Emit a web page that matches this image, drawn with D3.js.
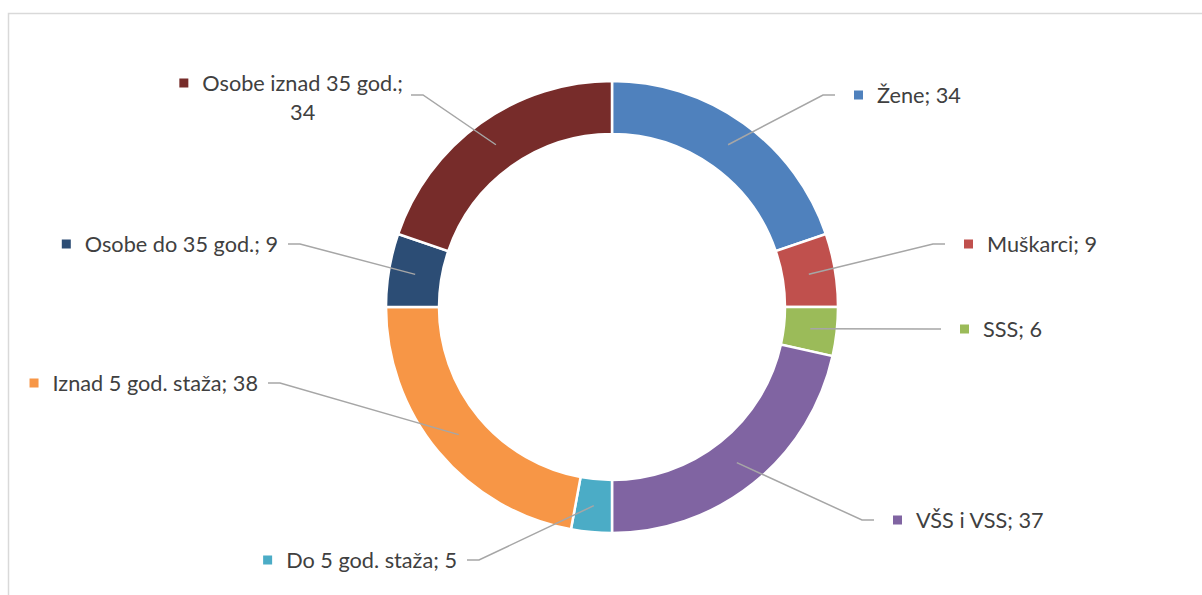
<!doctype html>
<html lang="en">
  <head>
    <meta charset="utf-8">
    <title>Donut chart</title>
    <style>
      body{margin:0;background:#fff;}
      svg{display:block;}
    </style>
  </head>
  <body>
    <div class="holder"></div>
    <script src="https://cdn.jsdelivr.net/npm/d3@7"></script>
    <script>

      // chart data
      var categories = ["Žene", "Muškarci", "SSS", "VŠS i VSS", "Do 5 god. staža",
                        "Iznad 5 god. staža", "Osobe do 35 god.", "Osobe iznad 35 god."];
      var values = [34, 9, 6, 37, 5, 38, 9, 34];
      var colors = ["#4F81BD", "#C0504D", "#9BBB59", "#8064A2", "#4BACC6",
                    "#F79646", "#2C4D75", "#772C2A"];

      // where each leader line bends (layout only), side of the label, wrapped or not
      var labelBends = [[823, 95], [933, 244], [929, 329], [862, 520],
                        [479, 560], [280, 383], [300, 244], [423, 95]];
      var labelSide = ["right", "right", "right", "right", "left", "left", "left", "left"];
      var labelWrap = [false, false, false, false, false, false, false, true];

      var width = 1202, height = 595,
          cx = 612, cy = 307,
          outerR = 226, innerR = 173,
          font = "Lato, 'Open Sans', sans-serif",
          fontSize = 21.7,
          textColor = "#404040",
          lineColor = "#A6A6A6";

      var data = categories.map(function(c, i){
        return {title: c, value: values[i], color: colors[i],
                bend: labelBends[i], side: labelSide[i], wrap: labelWrap[i]};
      });

      var svg = d3.select(".holder")
          .append("svg")
          .attr("width", width)
          .attr("height", height);

      // chart area border
      svg.append("rect")
          .attr("x", 8.5).attr("y", 13.5)
          .attr("width", width).attr("height", height)
          .style("fill", "none")
          .style("stroke", "#D9D9D9")
          .style("stroke-width", 1.5);

      var pie = d3.pie()
          .sort(null)
          .value(function(d){ return d.value; });

      var arc = d3.arc()
          .innerRadius(innerR)
          .outerRadius(outerR);

      var arcs = pie(data);

      var g = svg.append("g")
          .attr("transform", "translate(" + cx + "," + cy + ")");

      g.selectAll("path.slice")
          .data(arcs)
          .enter()
          .append("path")
          .attr("class", "slice")
          .attr("d", arc)
          .style("fill", function(d){ return d.data.color; })
          .style("stroke", "#fff")
          .style("stroke-width", 2.5);

      // leader lines: centroid -> bend -> short horizontal tail
      svg.selectAll("polyline.leader")
          .data(arcs)
          .enter()
          .append("polyline")
          .attr("class", "leader")
          .attr("points", function(d){
            var c = arc.centroid(d),
                b = d.data.bend,
                tail = d.data.side == "right" ? b[0] + 12 : b[0] - 12;
            return [[c[0] + cx, c[1] + cy], b, [tail, b[1]]].join(" ");
          })
          .style("fill", "none")
          .style("stroke", lineColor)
          .style("stroke-width", 1.5);

      // labels
      arcs.forEach(function(d){
        var b = d.data.bend, lg = svg.append("g");

        if (d.data.wrap) {
          var right = b[0] - 12 - 8;
          var t1 = lg.append("text")
              .attr("y", b[1] - 12)
              .attr("dy", "0.36em")
              .attr("text-anchor", "middle")
              .text(d.data.title + ";");
          var t2 = lg.append("text")
              .attr("y", b[1] + 17)
              .attr("dy", "0.36em")
              .attr("text-anchor", "middle")
              .text(d.data.value);
          lg.selectAll("text")
              .style("font-family", font)
              .style("font-size", fontSize + "px")
              .style("fill", textColor);
          var w1 = t1.node().getComputedTextLength();
          lg.selectAll("text").attr("x", right - w1 / 2);
          lg.append("rect")
              .attr("x", right - w1 - 23).attr("y", b[1] - 12 - 4.5)
              .attr("width", 9).attr("height", 9)
              .style("fill", d.data.color);
          return;
        }

        var t = lg.append("text")
            .attr("y", b[1])
            .attr("dy", "0.36em")
            .text(d.data.title + "; " + d.data.value)
            .style("font-family", font)
            .style("font-size", fontSize + "px")
            .style("fill", textColor);
        var w = t.node().getComputedTextLength(), x0;

        if (d.data.side == "right") {
          x0 = b[0] + 12 + 19 + 23;
        } else {
          x0 = b[0] - 12 - 10 - w;
        }
        t.attr("x", x0);
        lg.append("rect")
            .attr("x", x0 - 23).attr("y", b[1] - 4.5)
            .attr("width", 9).attr("height", 9)
            .style("fill", d.data.color);
      });

    </script>
  </body>
</html>
